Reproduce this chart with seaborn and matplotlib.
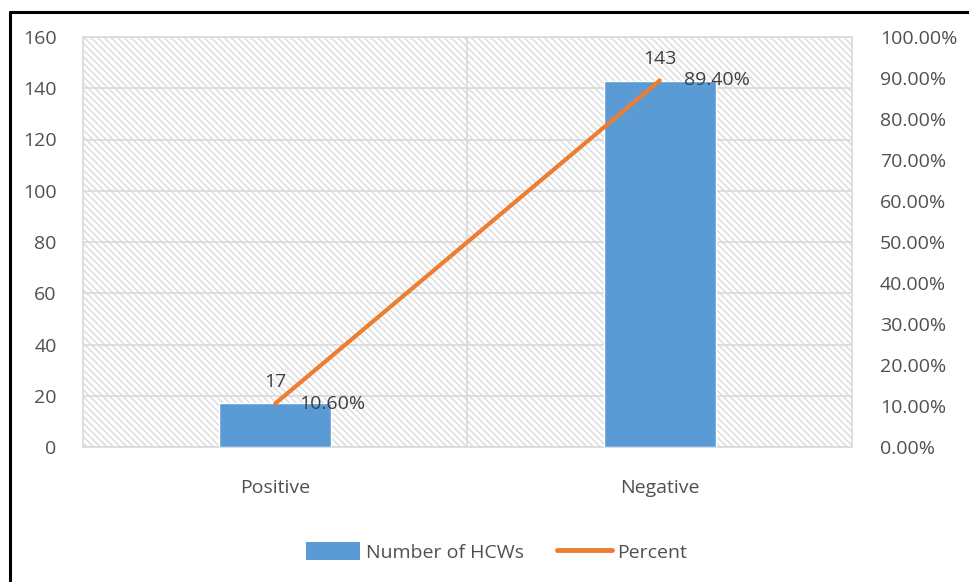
import matplotlib
matplotlib.use("Agg")
import matplotlib.pyplot as plt
import seaborn as sns
import numpy as np
import pandas as pd
from matplotlib.patches import Patch
from matplotlib.lines import Line2D

categories = ["Positive", "Negative"]
counts = [17, 143]
percents = [10.60, 89.40]
left_ticks = [0, 20, 40, 60, 80, 100, 120, 140, 160]
right_ticks = [0, 10, 20, 30, 40, 50, 60, 70, 80, 90, 100]

sns.set_theme(style="white")
plt.rcParams["font.family"] = ["Open Sans", "DejaVu Sans"]
plt.rcParams["hatch.color"] = "#dcdcdc"
plt.rcParams["hatch.linewidth"] = 1.1

TXT = "#505050"
GRID = "#d9d9d9"
BLUE = "#5B9BD5"
ORANGE = "#ED7D31"
FS = 14

df = pd.DataFrame({"cat": categories, "count": counts, "pct": percents})
df["pos"] = np.arange(len(categories))

fig = plt.figure(figsize=(9.7, 5.82), dpi=100)
ax = fig.add_axes([83/970, 1-447/582, (852-83)/970, (447-37)/582])
ax.patch.set_facecolor("white")
ax.patch.set_hatch("\\" * 5)
ax.patch.set_edgecolor("#dcdcdc")

sns.barplot(data=df, x="cat", y="count", color=BLUE, width=0.29,
            saturation=1, ax=ax, zorder=3)
ax.set_xlim(-0.5, len(categories) - 0.5)
ax.set_ylim(0, 160)
ax.set_yticks(left_ticks)
ax.set_xlabel("")
ax.set_ylabel("")
ax.yaxis.grid(True, color=GRID, lw=1.2, zorder=1)
ax.set_axisbelow(True)
for s in ax.spines.values():
    s.set_color(GRID)
    s.set_linewidth(1.2)
ax.set_xticks(np.arange(len(categories)))
ax.set_xticklabels(categories)
ax.set_xticks(np.arange(len(categories) + 1) - 0.5, minor=True)
ax.tick_params(axis="x", which="major", length=0, pad=23, labelsize=FS, labelcolor=TXT)
ax.tick_params(axis="x", which="minor", length=10, color=GRID, width=1.2)
ax.tick_params(axis="y", length=0, pad=19, labelsize=FS, labelcolor=TXT)
for xv in np.arange(1, len(categories)) - 0.5:
    ax.axvline(xv, color=GRID, lw=1.2, zorder=1)

for p, c in zip(df["pos"], df["count"]):
    ax.text(p, c + 5, f"{c}", ha="center", va="bottom", fontsize=FS, color="#404040", zorder=5)

ax2 = ax.twinx()
sns.lineplot(data=df, x="pos", y="pct", color=ORANGE, lw=3, ax=ax2, zorder=4)
ax2.set_ylim(0, 100)
ax2.set_yticks(right_ticks)
ax2.set_yticklabels([f"{v:.2f}%" for v in right_ticks])
ax2.set_xlim(-0.5, len(categories) - 0.5)
ax2.set_ylabel("")
ax2.set_xlabel("")
ax2.tick_params(axis="y", length=0, pad=20, labelsize=FS, labelcolor=TXT)
for s in ax2.spines.values():
    s.set_visible(False)
for p, v in zip(df["pos"], df["pct"]):
    ax2.text(p + 0.063, v, f"{v:.2f}%", ha="left", va="center", fontsize=FS, color="#404040", zorder=5)

handles = [Patch(facecolor=BLUE, edgecolor="none"), Line2D([0], [0], color=ORANGE, lw=3.5)]
fig.legend(handles, ["Number of HCWs", "Percent"], loc="center", bbox_to_anchor=(0.512, 1-552/582),
           ncol=2, frameon=False, fontsize=FS, labelcolor=TXT, handlelength=2.8,
           handleheight=1.0, columnspacing=1.7, handletextpad=0.3)

fig.add_artist(Line2D([10/970, 10/970], [0, 1-12/582], transform=fig.transFigure, color="black", lw=2.2))
fig.add_artist(Line2D([10/970, 1], [1-12/582, 1-12/582], transform=fig.transFigure, color="black", lw=2.2))

fig.savefig("out.png", dpi=100)
